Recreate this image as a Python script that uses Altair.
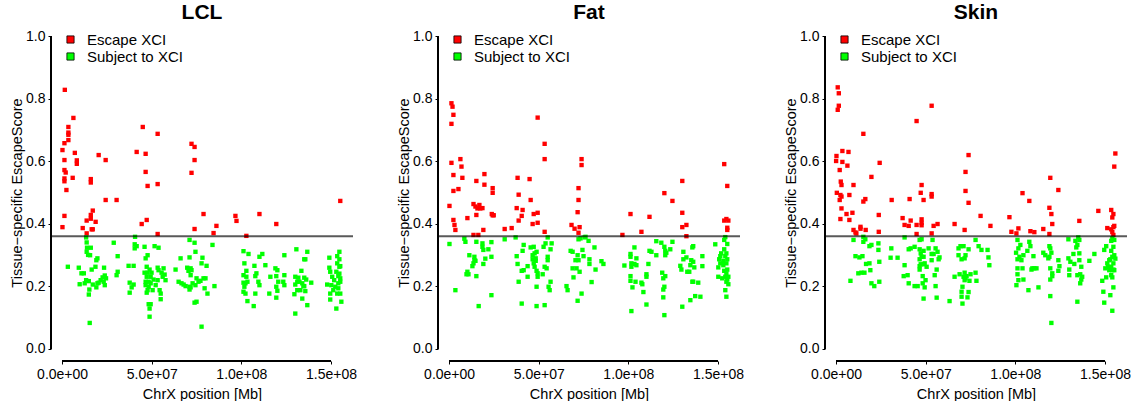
import altair as alt
import pandas as pd

panel_names = ["LCL", "Fat", "Skin"]
status_labels = ["Escape XCI", "Subject to XCI"]
status_colors = ["#FF0000", "#00FF00"]
x_tick_values = [0, 50, 100, 150]
x_tick_labels = ["0.0e+00", "5.0e+07", "1.0e+08", "1.5e+08"]
y_tick_values = [0.0, 0.2, 0.4, 0.6, 0.8, 1.0]
threshold = [0.36]

# (position in Mb, tissue-specific escape score)
lcl_escape = [
    (1.5, .829), (0.2, .636), (1.3, .658), (1.3, .604), (1.3, .572), (1.3, .545), (1.3, .536), (2.0, .564),
    (2.4, .508), (1.3, .425), (0.2, .389), (6.3, .739), (3.5, .710), (3.5, .692), (3.5, .685), (3.5, .668),
    (7.1, .627), (8.2, .603), (8.2, .592), (5.9, .547), (16.0, .543), (16.0, .532), (20.4, .620), (24.3, .604),
    (24.3, .476), (30.4, .476), (17.1, .442), (16.0, .428), (16.0, .416), (13.7, .410), (18.7, .406),
    (16.5, .382), (17.1, .382), (11.5, .386), (13.7, .369), (45.0, .710), (53.3, .688), (41.6, .630),
    (46.6, .624), (46.6, .566), (47.7, .521), (53.3, .527), (47.2, .412), (44.4, .399), (53.3, .367),
    (72.2, .656), (73.9, .646), (73.9, .604), (72.2, .563), (73.9, .383), (78.9, .431), (86.1, .393),
    (84.5, .370), (96.7, .425), (97.3, .409), (102.8, .361), (110.1, .431), (119.5, .399), (155.2, .473),
]
lcl_subject = [
    (3.2, .262), (9.3, .259), (9.8, .206), (10.8, .241), (12.1, .241), (12.6, .209), (13.4, .356), (13.7, .340),
    (13.9, .323), (13.7, .310), (14.5, .300), (13.4, .219), (14.9, .216), (14.9, .173), (15.2, .189), (15.4, .082),
    (15.6, .299), (16.0, .323), (16.5, .253), (17.1, .205), (18.6, .262), (19.1, .283), (19.7, .289), (19.1, .196),
    (19.7, .209), (20.4, .211), (21.5, .219), (22.6, .228), (23.4, .259), (23.2, .214), (23.8, .234), (24.5, .225),
    (23.8, .203), (28.8, .339), (31.0, .296), (30.4, .235), (31.0, .246),
    (37.1, .265), (39.9, .265), (37.7, .211), (38.8, .196), (37.7, .179), (39.9, .205), (40.7, .358), (40.5, .334),
    (41.6, .328), (40.5, .321), (46.0, .326), (46.6, .289), (47.7, .299), (47.2, .262), (46.0, .243), (47.7, .243),
    (47.2, .230), (46.6, .214), (48.3, .214), (46.6, .203), (48.3, .198), (47.7, .187), (47.2, .179), (48.3, .142),
    (49.4, .142), (48.8, .128), (48.8, .102), (48.8, .253), (49.4, .230), (49.9, .243), (49.4, .209), (50.5, .187),
    (51.6, .328), (53.8, .323), (53.3, .259), (53.8, .251), (53.3, .219), (54.4, .187), (55.0, .176), (55.0, .158),
    (55.5, .243), (56.1, .230), (56.6, .257), (57.2, .237), (57.7, .219), (52.2, .203), (51.0, .221),
    (63.3, .253), (65.0, .214), (66.1, .289), (66.6, .209), (67.8, .205), (68.9, .200), (69.8, .259), (70.5, .249),
    (71.1, .348), (71.1, .292), (71.1, .198), (71.7, .257), (71.7, .235), (72.2, .251), (71.7, .196), (71.1, .189),
    (72.8, .209), (73.9, .339), (74.4, .310), (73.9, .147), (75.0, .150), (74.4, .203), (75.0, .225), (76.1, .214),
    (77.2, .217), (77.8, .273), (78.3, .291), (78.9, .225), (79.5, .193), (80.0, .225), (80.6, .265), (81.1, .176),
    (77.8, .070), (83.9, .332), (85.0, .200),
    (101.2, .312), (101.7, .273), (101.2, .235), (101.2, .211), (101.7, .198), (101.2, .182), (102.3, .176),
    (102.8, .249), (103.4, .214), (103.4, .152), (104.0, .303), (102.8, .230), (102.3, .209), (106.9, .136),
    (107.3, .265), (107.8, .232), (107.8, .176), (108.4, .241), (109.5, .214), (110.1, .294), (110.1, .203),
    (111.7, .303), (113.4, .267), (115.6, .176), (116.2, .230), (119.0, .257), (119.5, .232), (119.5, .198),
    (119.5, .163), (120.1, .251), (120.6, .214), (120.1, .185), (123.4, .214), (124.0, .299), (124.0, .235),
    (124.0, .203),
    (129.6, .174), (130.1, .112), (130.7, .318), (130.1, .230), (130.1, .205), (131.2, .214), (131.8, .227),
    (132.4, .214), (131.2, .187), (132.9, .187), (133.5, .249), (134.0, .209), (134.6, .200), (135.1, .286),
    (135.7, .286), (135.1, .227), (135.1, .200), (134.0, .160), (135.7, .184), (136.8, .310), (136.8, .139),
    (136.2, .221), (139.0, .211),
    (147.9, .205), (149.1, .291), (149.1, .259), (149.6, .246), (149.6, .176), (149.6, .157), (150.2, .203),
    (150.7, .230), (151.3, .187), (151.8, .219), (152.4, .198), (153.0, .128), (153.0, .246), (153.5, .296),
    (153.5, .273), (153.5, .176), (154.1, .232), (154.1, .209), (154.1, .193), (154.7, .310), (154.7, .286),
    (154.7, .262), (154.7, .240), (155.2, .264), (155.2, .225), (155.2, .176), (155.8, .150), (155.2, .214),
]

fat_escape = [
    (1.3, .786), (1.9, .775), (2.4, .749), (1.3, .720), (1.3, .595), (2.4, .556), (2.4, .505), (0.2, .457),
    (2.4, .412), (3.0, .396), (3.5, .380), (6.3, .607), (6.9, .583), (7.4, .547), (5.2, .511), (10.2, .418),
    (15.2, .537), (19.7, .559), (19.7, .525), (24.3, .514), (24.3, .499), (13.6, .463), (14.7, .455),
    (15.8, .449), (16.9, .460), (17.4, .449), (18.6, .450), (15.2, .428), (23.8, .431), (24.3, .427),
    (24.9, .427), (19.1, .380), (13.6, .364), (16.3, .364), (31.0, .383), (34.9, .386), (38.2, .547),
    (38.8, .493), (37.7, .450), (41.0, .444), (40.5, .425), (38.8, .410), (44.9, .543), (45.5, .476),
    (47.2, .431), (49.4, .435), (46.6, .399), (49.4, .403), (49.4, .740), (53.3, .656), (53.3, .607),
    (53.3, .374), (68.3, .396), (70.0, .384), (72.2, .514), (72.2, .476), (71.7, .437), (72.8, .389),
    (72.2, .371), (73.9, .607), (73.9, .588), (96.7, .364), (101.2, .431), (107.3, .374), (111.8, .422),
    (120.1, .498), (124.6, .473), (130.1, .537), (130.1, .435), (130.1, .389), (132.4, .396), (132.4, .360),
    (153.5, .591), (155.2, .521), (153.5, .410), (154.7, .415), (155.8, .410), (155.2, .387), (155.2, .380),
]
fat_subject = [
    (0.2, .335), (3.5, .187), (8.5, .352), (9.1, .342), (9.7, .238), (10.2, .246), (10.8, .238), (11.3, .299),
    (13.0, .264), (13.6, .273), (14.1, .294), (14.1, .283), (14.7, .281), (15.2, .342), (15.2, .232), (16.5, .136),
    (18.6, .337), (19.1, .316), (19.1, .271), (18.6, .326), (20.2, .288), (21.9, .318), (23.6, .341), (23.6, .294),
    (23.6, .171),
    (31.0, .350), (37.1, .356), (37.7, .296), (38.2, .271), (38.8, .214), (40.5, .144), (40.5, .249), (41.0, .313),
    (41.6, .332), (41.6, .251), (43.8, .264), (43.8, .230), (45.5, .324), (46.6, .299), (46.6, .286), (47.2, .326),
    (47.2, .273), (47.7, .262), (47.7, .305), (48.3, .289), (48.3, .281), (48.8, .310), (48.8, .249), (48.8, .198),
    (48.8, .136), (49.4, .230), (49.4, .241), (52.2, .238), (52.7, .326), (53.3, .262), (53.3, .139), (53.8, .337),
    (54.4, .257), (55.0, .356), (55.0, .294), (55.0, .283), (55.5, .198), (56.1, .187), (56.6, .214), (56.6, .318),
    (57.2, .337),
    (65.5, .200), (66.1, .187), (67.8, .313), (68.9, .310), (68.9, .257), (69.4, .228), (70.5, .283), (71.1, .257),
    (71.7, .299), (71.7, .153), (72.2, .350), (72.2, .283), (72.8, .246), (73.3, .353), (73.9, .176), (74.4, .316),
    (75.0, .296), (75.6, .356), (76.1, .358), (77.8, .345), (78.3, .286), (78.3, .271), (79.5, .213), (81.1, .324),
    (81.7, .253), (85.0, .280), (86.1, .271),
    (97.8, .266), (101.2, .303), (101.2, .294), (101.7, .273), (101.7, .262), (101.2, .232), (101.2, .217),
    (101.7, .120), (102.3, .196), (103.4, .324), (103.4, .271), (104.0, .214), (104.5, .289), (104.5, .267),
    (107.3, .211), (107.8, .206), (108.4, .181), (110.1, .238), (110.1, .230), (110.1, .141), (111.2, .271),
    (111.8, .313), (112.9, .310), (115.6, .344), (115.6, .299), (118.4, .339), (118.9, .243), (119.5, .225),
    (119.5, .189), (119.5, .164), (120.1, .326), (120.1, .107), (120.1, .198), (120.6, .313), (120.6, .299),
    (120.6, .232), (121.2, .307), (123.4, .318), (124.6, .342),
    (129.0, .265), (129.6, .253), (130.1, .134), (130.7, .310), (130.7, .286), (132.4, .292), (132.9, .246),
    (134.0, .246), (134.6, .267), (134.6, .155), (135.1, .283), (135.7, .324), (135.7, .214), (136.2, .328),
    (136.2, .278), (136.2, .214), (136.8, .260), (137.3, .168), (139.0, .211), (140.2, .166), (141.3, .296),
    (141.3, .264),
    (148.5, .334), (150.2, .260), (150.2, .230), (150.7, .286), (151.3, .296), (151.3, .273), (151.8, .305),
    (152.4, .225), (153.0, .281), (153.0, .267), (153.5, .348), (153.5, .318), (153.5, .249), (154.1, .357),
    (154.1, .296), (154.1, .230), (154.1, .187), (154.7, .305), (154.7, .273), (154.7, .241), (154.7, .214),
    (154.7, .166), (155.2, .335), (155.2, .286), (155.2, .253), (155.2, .221), (155.8, .230), (155.8, .206),
]

skin_escape = [
    (0.9, .837), (1.5, .818), (1.5, .778), (0.9, .765), (0.2, .617), (0.0, .601), (0.4, .499), (2.0, .572),
    (2.6, .535), (3.0, .524), (2.4, .492), (3.0, .487), (2.0, .476), (3.0, .449), (2.4, .415), (3.5, .633),
    (3.5, .598), (6.9, .630), (6.3, .586), (7.4, .492), (5.8, .431), (7.4, .412), (9.1, .435), (9.7, .524),
    (9.7, .380), (10.8, .372), (11.3, .369), (13.6, .390), (13.6, .384), (15.2, .688), (15.2, .471), (16.3, .479),
    (16.5, .380), (19.7, .550), (24.3, .595), (23.8, .428), (23.8, .374), (31.0, .476), (37.1, .418), (38.2, .396),
    (40.5, .393), (41.6, .410), (41.0, .479), (44.9, .729), (44.9, .396), (44.9, .367), (47.2, .499), (47.7, .524),
    (47.7, .414), (47.7, .403), (47.7, .395), (48.8, .476), (53.3, .778), (53.3, .495), (53.3, .487), (53.3, .369),
    (54.4, .393), (56.6, .399), (66.1, .399), (71.7, .380), (72.2, .566), (72.2, .505), (73.9, .620), (73.9, .467),
    (80.6, .425), (86.1, .393), (96.7, .421), (97.8, .374), (100.6, .369), (101.7, .385), (104.0, .498),
    (107.8, .473), (108.4, .376), (110.6, .373), (115.6, .383), (119.0, .451), (119.0, .367), (119.5, .547),
    (120.1, .431), (120.6, .399), (124.0, .508), (135.7, .409), (146.3, .441), (151.3, .386), (153.5, .444),
    (154.1, .420), (154.7, .431), (153.5, .382), (154.1, .373), (154.7, .389), (155.2, .393), (154.7, .364),
    (155.2, .583), (155.8, .625),
]
skin_subject = [
    (8.0, .217), (9.7, .348), (10.8, .296), (12.4, .241), (13.0, .292), (14.1, .243), (14.7, .296), (15.2, .358),
    (15.2, .342), (15.8, .243), (16.3, .350), (16.7, .271), (18.6, .273), (18.6, .328), (19.1, .251), (19.7, .332),
    (19.7, .209), (21.3, .200), (23.6, .337), (23.6, .316), (24.1, .278), (24.1, .214), (30.8, .321), (30.4, .291),
    (34.3, .291),
    (38.2, .356), (38.2, .267), (37.7, .232), (39.9, .235), (40.5, .318), (40.5, .209), (41.6, .321), (43.8, .326),
    (43.8, .200), (45.5, .200), (46.6, .348), (46.6, .318), (46.6, .286), (46.6, .264), (46.6, .253), (47.2, .305),
    (47.2, .270), (47.7, .350), (47.7, .294), (48.3, .232), (48.3, .209), (48.8, .313), (48.8, .294), (48.8, .270),
    (48.8, .160), (49.4, .196), (49.4, .273), (49.9, .219), (50.5, .262), (51.6, .321), (53.3, .303), (53.3, .283),
    (53.8, .348), (54.4, .303), (55.0, .235), (55.5, .321), (55.5, .200), (56.1, .253), (56.1, .163), (56.6, .310),
    (57.2, .286), (57.7, .292), (63.3, .152),
    (66.1, .230), (68.3, .321), (68.3, .299), (68.9, .238), (69.4, .328), (70.0, .286), (70.0, .182), (70.0, .166),
    (70.5, .144), (70.5, .198), (71.1, .230), (71.1, .328), (71.7, .289), (71.7, .243), (71.7, .219), (72.2, .299),
    (72.2, .225), (72.8, .232), (73.3, .164), (73.9, .318), (73.9, .181), (74.4, .217), (75.0, .238), (77.8, .348),
    (77.8, .243), (78.3, .217), (79.5, .328), (81.1, .316), (84.5, .316), (85.0, .292), (85.5, .267),
    (100.4, .307), (101.2, .348), (101.2, .286), (101.2, .257), (101.2, .238), (100.6, .203), (101.7, .321),
    (101.7, .219), (102.3, .294), (102.8, .332), (103.4, .283), (104.0, .257), (104.5, .299), (104.5, .221),
    (106.7, .313), (107.3, .187), (107.8, .342), (108.4, .328), (109.0, .253), (109.5, .257), (110.1, .296),
    (110.6, .257), (111.8, .257), (112.9, .196), (115.6, .307), (116.7, .299), (118.4, .289), (119.0, .294),
    (119.0, .328), (119.5, .321), (119.5, .257), (119.5, .221), (119.5, .168), (120.1, .082), (120.1, .307),
    (120.6, .241), (120.6, .232), (124.0, .283), (124.0, .249), (124.6, .264),
    (129.6, .350), (129.6, .289), (130.1, .253), (130.1, .235), (130.7, .278), (132.4, .303), (132.9, .271),
    (133.5, .345), (134.0, .324), (134.6, .332), (134.6, .235), (134.6, .150), (135.1, .356), (135.7, .348),
    (135.7, .305), (135.7, .283), (136.2, .238), (136.2, .209), (136.8, .262), (136.8, .221), (137.3, .230),
    (141.3, .281), (144.1, .303),
    (148.5, .217), (149.1, .182), (149.6, .147), (149.6, .316), (150.2, .257), (150.7, .328), (150.7, .228),
    (151.3, .273), (151.8, .262), (152.4, .251), (152.4, .283), (153.0, .171), (153.0, .286), (153.5, .345),
    (153.5, .313), (153.5, .262), (153.5, .235), (154.1, .121), (154.1, .353), (154.1, .294), (154.1, .251),
    (154.1, .228), (154.7, .326), (154.7, .196), (154.7, .273), (154.7, .253), (155.2, .348), (155.2, .299),
    (155.2, .251), (155.8, .288),
]

FONT = "Liberation Sans"
X_DOMAIN = [-6.2, 162.3]
Y_DOMAIN = [-0.04, 1.04]
W, H = 302, 337

label_expr = ""
for v, lab in zip(x_tick_values[:-1], x_tick_labels[:-1]):
    label_expr += f"datum.value == {v} ? '{lab}' : "
label_expr += f"'{x_tick_labels[-1]}'"


def make_panel(name, escape, subject):
    rows = [{"pos": p, "score": s, "status": status_labels[0]} for p, s in escape]
    rows += [{"pos": p, "score": s, "status": status_labels[1]} for p, s in subject]
    df = pd.DataFrame(rows)
    xs = alt.Scale(domain=X_DOMAIN, nice=False, zero=False)
    ys = alt.Scale(domain=Y_DOMAIN, nice=False, zero=False)

    points = alt.Chart(df).mark_square(size=19, opacity=1, strokeWidth=0).encode(
        x=alt.X("pos:Q", scale=xs,
                axis=alt.Axis(values=x_tick_values, labelExpr=label_expr,
                              title="ChrX position [Mb]", labelPadding=3, titlePadding=6)),
        y=alt.Y("score:Q", scale=ys,
                axis=alt.Axis(values=y_tick_values, format=".1f",
                              title="Tissue\u2212specific EscapeScore", labelPadding=3, titlePadding=1)),
        color=alt.Color("status:N",
                        scale=alt.Scale(domain=status_labels, range=status_colors),
                        legend=alt.Legend(title=None, orient="none", legendX=12, legendY=8,
                                          symbolType="square", symbolSize=52,
                                          symbolStrokeColor="black", symbolStrokeWidth=0.8,
                                          symbolOpacity=1, labelFontSize=15, labelFont=FONT,
                                          labelColor="black", labelOffset=9, rowPadding=1,
                                          padding=0)),
    )
    yline = alt.Chart(df).mark_rule(color="black", strokeWidth=1).encode(
        x=alt.datum(X_DOMAIN[0]), y=alt.datum(y_tick_values[0]), y2=alt.datum(y_tick_values[-1]))
    xline = alt.Chart(df).mark_rule(color="black", strokeWidth=1).encode(
        y=alt.datum(Y_DOMAIN[0]), x=alt.datum(x_tick_values[0]), x2=alt.datum(x_tick_values[-1]))
    thr = alt.Chart(pd.DataFrame({"t": threshold})).mark_rule(
        color="black", opacity=0.65, strokeWidth=2).encode(y=alt.Y("t:Q", scale=ys))

    return alt.layer(points, thr, yline, xline).properties(
        width=W, height=H,
        title=alt.TitleParams(name, fontSize=21, font=FONT, fontWeight="bold",
                              anchor="middle", frame="group", offset=1, color="black"),
    )


panels = [
    make_panel(panel_names[0], lcl_escape, lcl_subject),
    make_panel(panel_names[1], fat_escape, fat_subject),
    make_panel(panel_names[2], skin_escape, skin_subject),
]

chart = alt.hconcat(*panels, spacing=39).resolve_legend(color="independent").properties(
    padding={"left": 9, "top": 2, "right": 0, "bottom": 0}
).configure_view(stroke=None).configure_axis(
    labelFont=FONT, titleFont=FONT, labelFontSize=14, titleFontSize=14.5,
    titleFontWeight="normal", labelColor="black", titleColor="black",
    tickColor="black", tickSize=3, grid=False, domain=False,
)

chart.save("out.html", embed_options={"renderer": "svg", "actions": False})
